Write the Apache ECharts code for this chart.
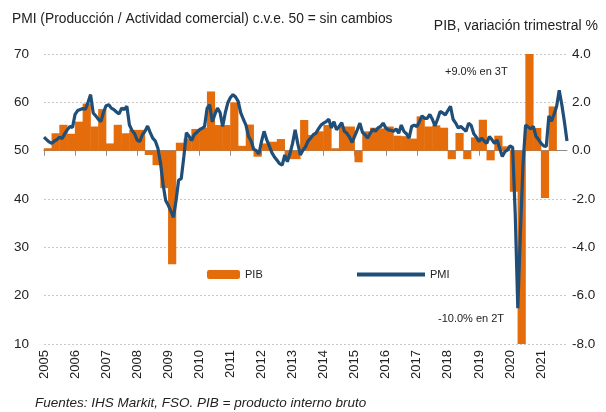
<!DOCTYPE html>
<html>
<head>
<meta charset="utf-8">
<script src="https://cdn.jsdelivr.net/npm/echarts@6/dist/echarts.min.js"></script>
<style>
  html, body { margin: 0; padding: 0; background: #fff; }
  #main { width: 606px; height: 412px; }
</style>
</head>
<body>
<div id="main"></div>
<script>
// year labels on the x axis (one tick every 12 months, starting Jan 2005)
const years = ['2005', '2006', '2007', '2008', '2009', '2010', '2011', '2012', '2013',
  '2014', '2015', '2016', '2017', '2018', '2019', '2020', '2021'];

// PMI, monthly, Jan 2005 .. Nov 2021
const pmi = [
  52.8, 52.3, 51.8, 51.5, 52.0, 52.3, 52.8, 52.5, 53.5, 54.3, 55.0, 54.8,
  57.5, 58.3, 58.5, 58.7, 58.6, 60.0, 61.6, 57.8, 57.2, 56.5, 56.0, 58.0,
  59.3, 59.5, 58.8, 58.5, 58.0, 57.6, 58.8, 58.5, 59.2, 55.3, 54.2, 53.5,
  52.2, 51.9, 53.3, 54.0, 55.1, 53.8, 52.6, 52.0, 50.5, 47.5, 43.0, 39.7,
  38.7, 37.5, 36.2, 39.7, 43.9, 44.2, 48.7, 53.7, 53.0, 52.1, 53.3, 53.8,
  54.3, 54.6, 55.0, 58.8, 59.5, 56.0, 57.5, 58.8, 57.9, 55.0, 57.8, 59.9,
  61.0, 61.6, 61.1, 60.2, 57.8, 56.5, 55.3, 53.0, 52.0, 50.3, 50.0, 49.3,
  51.9, 54.0, 52.3, 51.0, 49.6, 48.7, 48.0, 47.3, 47.0, 49.1, 47.7, 49.4,
  51.5, 54.3, 51.5, 49.1, 50.1, 50.8, 52.0, 52.6, 53.3, 53.6, 54.5, 55.3,
  55.7, 56.0, 56.5, 54.7, 56.0, 54.3, 55.0, 55.8, 54.0, 53.6, 52.8, 51.7,
  53.0, 54.3, 55.7, 53.8, 53.3, 52.6, 53.6, 54.4, 54.0, 54.7, 55.0, 55.7,
  54.7, 54.3, 54.2, 54.0, 54.5, 53.6, 55.3, 54.0, 53.5, 52.6, 55.0, 55.3,
  55.0, 56.0, 57.2, 56.7, 56.7, 57.5, 56.5, 55.1, 56.5, 58.1, 57.8, 57.4,
  58.3, 59.2, 56.5, 55.7, 54.7, 55.0, 54.5, 54.0, 55.7, 55.2, 53.5, 52.8,
  51.9, 52.6, 52.0, 51.5, 52.9, 52.3, 51.5, 52.2, 50.5, 48.8, 49.8, 50.1,
  51.0, 50.7, 37.0, 17.4, 33.0, 47.0, 55.3, 54.9, 54.5, 55.0, 53.0, 52.3,
  51.5, 51.0, 50.9, 57.2, 56.1, 57.5, 59.2, 62.5, 59.5, 56.0, 52.0
];

// PIB, quarterly % change, 2005 Q1 .. 2021 Q2
const pib = [
  0.1, 0.72, 1.07, 0.7,
  1.2, 1.95, 1.0, 1.72,
  0.3, 1.07, 0.72, 0.86,
  0.86, -0.18, -0.6, -1.55,
  -4.7, 0.33, 0.5, 0.9,
  0.95, 2.45, 1.06, 1.06,
  2.0, 0.2, 1.08, -0.25,
  0.3, 0.37, 0.48, -0.35,
  -0.35, 1.27, 0.65, 0.8,
  1.06, 0.1, 1.0, 1.0,
  -0.48, 0.8, 0.95, 0.92,
  1.0, 0.62, 0.6, 0.5,
  1.42, 1.0, 1.05, 0.95,
  -0.35, 0.73, -0.35, 0.55,
  1.28, -0.4, 0.62, 0.18,
  -1.7, -10.0, 9.0, 0.94,
  -1.96, 1.83
];

const yearTicks = years.map((y, i) => i * 12);
const pmiData = pmi.map((v, i) => [i, v]);
const pibData = pib.map((v, k) => [3 * k + 1.5, v]);

const txt = '#222';
const font = 'Liberation Sans, Arial, sans-serif';

let chart = echarts.init(document.getElementById('main'));
let option = {
    animation: false,
    textStyle: {fontFamily: font},
    grid: {left: 44, right: 39, top: 54, bottom: 68},
    legend: [{
        left: 202, top: 264, icon: 'roundRect', itemWidth: 33, itemHeight: 9, itemGap: 4,
        data: ['PIB'], textStyle: {fontSize: 11, color: txt, fontFamily: font}
    }, {
        left: 352, top: 264, icon: 'rect', itemWidth: 68, itemHeight: 4,
        data: ['PMI'], textStyle: {fontSize: 11, color: txt, fontFamily: font}
    }],
    xAxis: {
        type: 'value', min: 0, max: pmi.length - 1,
        splitLine: {show: false},
        axisLine: {lineStyle: {color: '#8c8c8c', width: 1}},
        axisTick: {show: true, customValues: yearTicks, length: 5, lineStyle: {color: '#8c8c8c'}},
        axisLabel: {
            customValues: yearTicks, rotate: 90, margin: 6, fontSize: 13, color: txt,
            formatter: v => years[Math.round(v / 12)]
        }
    },
    yAxis: [{
        type: 'value', min: 10, max: 70, interval: 10, position: 'left',
        axisLine: {show: false}, axisTick: {show: false},
        axisLabel: {fontSize: 13.5, color: txt, margin: 15},
        splitLine: {lineStyle: {color: '#c8c8c8', type: [2, 2], width: 1}}
    }, {
        type: 'value', min: -8, max: 4, interval: 2, position: 'right',
        axisLine: {show: false}, axisTick: {show: false}, splitLine: {show: false},
        axisLabel: {fontSize: 13.5, color: txt, margin: 5, formatter: v => v.toFixed(1)}
    }],
    title: [{
        text: 'PMI (Producción / Actividad comercial) c.v.e. 50 = sin cambios',
        left: 7, top: 7, textStyle: {fontSize: 13.8, fontWeight: 'normal', color: txt, fontFamily: font}
    }, {
        text: 'PIB, variación trimestral %',
        right: 3, top: 14, textStyle: {fontSize: 14, fontWeight: 'normal', color: txt, fontFamily: font}
    }, {
        text: 'Fuentes: IHS Markit, FSO. PIB = producto interno bruto',
        left: 30, top: 391, textStyle: {fontSize: 13.5, fontStyle: 'italic', fontWeight: 'normal', color: txt, fontFamily: font}
    }],
    graphic: [{
        type: 'text', left: 445, top: 66,
        style: {text: '+9.0% en 3T', fontSize: 11, fill: txt, fontFamily: font}
    }, {
        type: 'text', left: 438, top: 313,
        style: {text: '-10.0% en 2T', fontSize: 11, fill: txt, fontFamily: font}
    }],
    series: [{
        name: 'PIB', type: 'bar', yAxisIndex: 1, data: pibData,
        barWidth: 8.2, clip: true,
        itemStyle: {color: '#E46C0A'}
    }, {
        name: 'PMI', type: 'line', yAxisIndex: 0, data: pmiData,
        showSymbol: false, symbol: 'none',
        lineStyle: {color: '#1F4E79', width: 3.2},
        itemStyle: {color: '#1F4E79'}
    }]
};
chart.setOption(option);
</script>
</body>
</html>
